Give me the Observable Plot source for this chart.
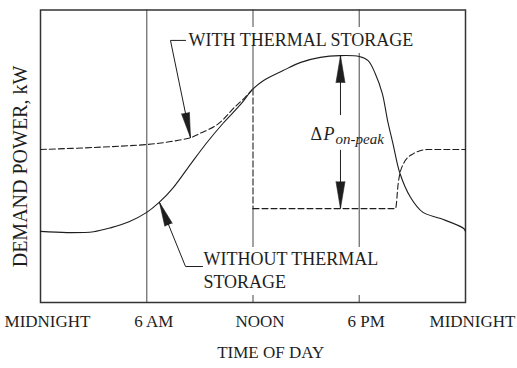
<!DOCTYPE html>
<html><head><meta charset="utf-8">
<script src="https://cdn.jsdelivr.net/npm/d3@7"></script>
<script src="https://cdn.jsdelivr.net/npm/@observablehq/plot@0.6"></script>
<style>html,body{margin:0;padding:0;background:#fff;}</style>
</head><body><div id="chart"></div>
<script>
// ---- data (hours after midnight, demand power in relative units 0–100) ----
const timeTicks = [0, 6, 12, 18, 24];
const tickLabels = ["MIDNIGHT", "6 AM", "NOON", "6 PM", "MIDNIGHT"];

const withoutHours = [0, 1.5, 3, 4, 5, 6, 6.7, 7.5, 8.5, 9.4, 10.3, 11.3, 12, 12.6, 13.7, 14.7, 15.8, 16.9, 18, 18.5, 18.9, 19.3, 19.6, 19.9, 20.3, 20.9, 21.6, 22.6, 23.9, 24];
const withoutPower = [24.3, 23.9, 24.2, 25.6, 27.6, 30.8, 34.2, 39.3, 47.5, 54.7, 61.2, 67.7, 73, 75.9, 79.3, 82.1, 83.8, 84.4, 84.1, 82.7, 78.3, 71.5, 62.2, 54.4, 44.1, 35.9, 30.8, 28.7, 25.3, 24.3];

const withMorningHours = [0, 3, 6, 7, 8, 8.5, 9, 10, 11, 11.5, 12];
const withMorningPower = [52.3, 53.0, 54.0, 54.7, 55.7, 56.4, 57.8, 60.9, 67.0, 69.8, 73];
const withDropHours = [12, 12];
const withDropPower = [73, 32.1];
const withEveningHours = [12, 20.05, 20.2, 20.5, 21.06, 21.85, 24];
const withEveningPower = [32.1, 32.1, 40.7, 47.5, 50.9, 52.3, 52.3];

const yTitle = "DEMAND POWER, kW";
const xTitle = "TIME OF DAY";
const withLabel = "WITH THERMAL STORAGE";
const withoutLabel = ["WITHOUT THERMAL", "STORAGE"];

// ---- helpers ----
const rows = (hs, ps) => hs.map((h, i) => ({h, p: ps[i]}));
const W = 517, H = 368, mL = 40, mR = 52, mT = 9.5, mB = 66;
const xs = d3.scaleLinear([0, 24], [mL, W - mR]);
const ys = d3.scaleLinear([0, 100], [H - mB, mT]);
const angle = (a, b) => Math.atan2(xs(b.h) - xs(a.h), -(ys(b.p) - ys(a.p))) * 180 / Math.PI;

// annotation geometry (data units)
const gridSegs = [
  {h: 6, a: 0, b: 100},
  {h: 12, a: 94, b: 100}, {h: 12, a: 73.2, b: 87.9}, {h: 12, a: 18.8, b: 32.1}, {h: 12, a: 0, b: 2.4},
  {h: 18, a: 94, b: 100}, {h: 18, a: 18.8, b: 85.1}, {h: 18, a: 0, b: 2.4}
];
const withLeader = [{h: 8.19, p: 89.6}, {h: 7.34, p: 89.6}, {h: 8.47, p: 56.4}];
const withoutLeader = [{h: 9.15, p: 12.3}, {h: 8.19, p: 12.3}, {h: 6.72, p: 34.2}];
const dH = 16.94;
const deltaShafts = [{h: dH, a: 63.9, b: 84.4}, {h: dH, a: 32.1, b: 52.0}];
const heads = [
  {h: 8.47, p: 56.4, r: angle(withLeader[1], withLeader[2]), len: 25, w: 4},
  {h: 6.72, p: 34.2, r: angle(withoutLeader[1], withoutLeader[2]), len: 24, w: 4},
  {h: dH, p: 84.4, r: 0, len: 27, w: 4.5},
  {h: dH, p: 32.1, r: 180, len: 27, w: 4.5}
];

const ink = "#1e1e1e";
const chart = Plot.plot({
  width: W, height: H,
  marginLeft: mL, marginRight: mR, marginTop: mT, marginBottom: mB,
  x: {domain: [0, 24]},
  y: {domain: [0, 100], axis: null},
  style: {fontFamily: "'Liberation Serif', 'Times New Roman', serif", background: "#fff", color: ink},
  marks: [
    Plot.ruleX(gridSegs, {x: "h", y1: "a", y2: "b", stroke: "#707070", strokeWidth: 1.3}),
    Plot.frame({stroke: "#333", strokeWidth: 1.5}),
    Plot.line(rows(withoutHours, withoutPower), {x: "h", y: "p", curve: "catmull-rom", stroke: ink, strokeWidth: 1.1}),
    Plot.line(rows(withMorningHours, withMorningPower), {x: "h", y: "p", curve: "catmull-rom", stroke: ink, strokeWidth: 1.1, strokeDasharray: "6,3"}),
    Plot.line(rows(withDropHours, withDropPower), {x: "h", y: "p", stroke: "#444", strokeWidth: 1.3, strokeDasharray: "6,3"}),
    Plot.line(rows(withEveningHours, withEveningPower), {x: "h", y: "p", curve: "monotone-x", stroke: ink, strokeWidth: 1.1, strokeDasharray: "6,3"}),
    Plot.line(withLeader, {x: "h", y: "p", stroke: ink, strokeWidth: 1}),
    Plot.line(withoutLeader, {x: "h", y: "p", stroke: ink, strokeWidth: 1}),
    Plot.ruleX(deltaShafts, {x: "h", y1: "a", y2: "b", stroke: ink, strokeWidth: 1}),
    ...heads.map(d => Plot.vector([d], {x: "h", y: "p", rotate: d.r, length: d.len, r: d.w, shape: "spike", anchor: "end", fill: ink, stroke: ink, strokeWidth: 0.6})),
    Plot.axisX(timeTicks, {tickFormat: (d, i) => tickLabels[i], tickSize: 0, tickPadding: 12, fontSize: 17, dx: 7, label: null, fill: ink}),
    Plot.text([xTitle], {x: 13, frameAnchor: "bottom", dy: 55, fontSize: 17, fill: ink}),
    Plot.text([yTitle], {x: 0, y: 46.5, dx: -20, rotate: -90, fontSize: 20, fill: ink}),
    Plot.text([withLabel], {x: 8.36, y: 89.7, textAnchor: "start", fontSize: 18, fill: ink}),
    Plot.text(withoutLabel, {x: 9.2, y: (d, i) => [14.9, 7.0][i], textAnchor: "start", fontSize: 18, fill: ink}),
    Plot.text(["Δ"], {x: dH, y: 57.6, dx: -30, textAnchor: "start", fontSize: 18, fill: ink}),
    Plot.text(["P"], {x: dH, y: 57.6, dx: -17, textAnchor: "start", fontSize: 18, fontStyle: "italic", fill: ink}),
    Plot.text(["on-peak"], {x: dH, y: 57.6, dx: -5, dy: 5, textAnchor: "start", fontSize: 15, fontStyle: "italic", fill: ink})
  ]
});
document.getElementById("chart").appendChild(chart);
</script>
</body></html>
